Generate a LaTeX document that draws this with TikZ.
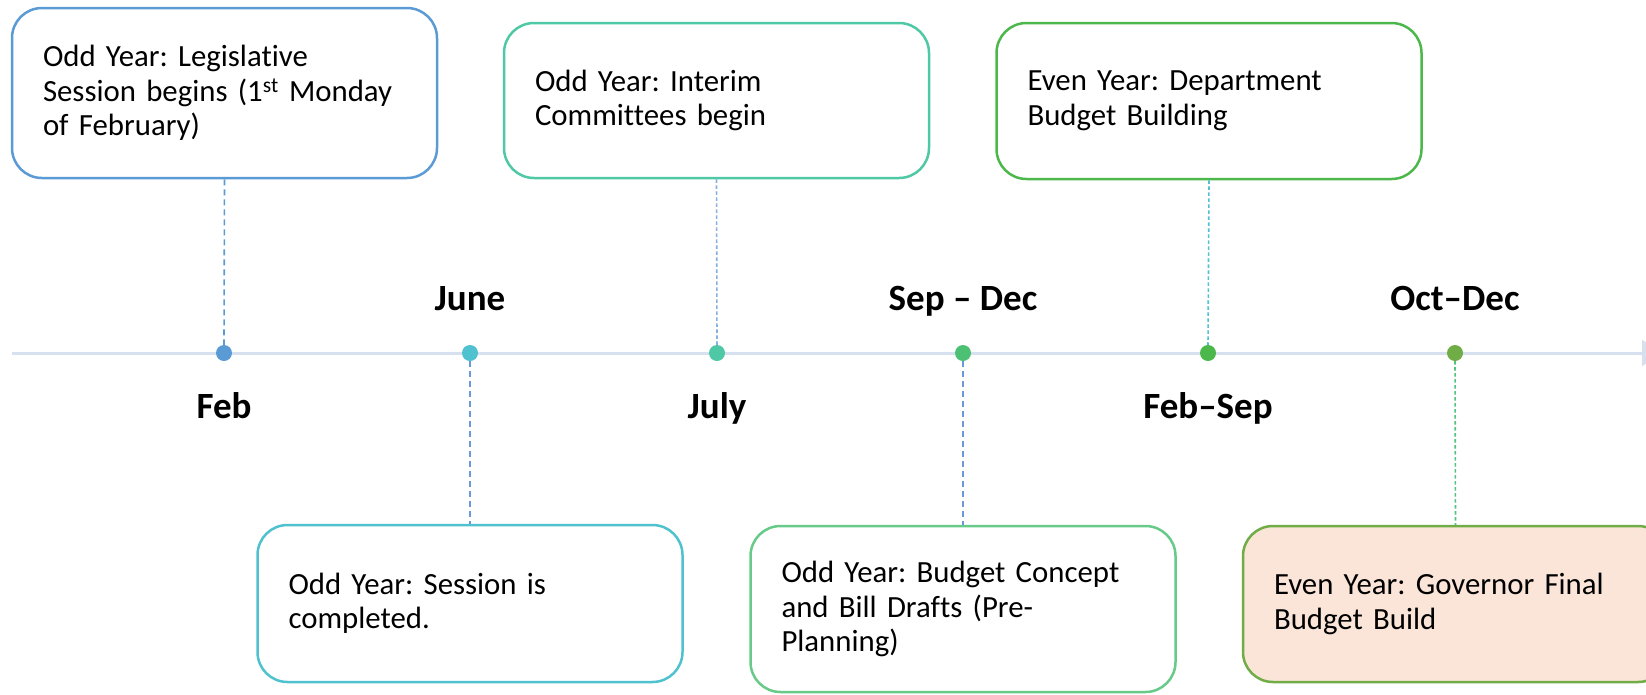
\documentclass[tikz,border=0pt]{standalone}
\usepackage{fontspec}
\setmainfont{Carlito}[Ligatures=NoCommon]
\usetikzlibrary{arrows.meta}
\frenchspacing
\definecolor{cBlue}{HTML}{5B9BD5}
\definecolor{cCyan}{HTML}{4FC1CF}
\definecolor{cTeal}{HTML}{4FC8A5}
\definecolor{cGreenA}{HTML}{4CC174}
\definecolor{cGreenB}{HTML}{4CB84C}
\definecolor{cOlive}{HTML}{70AD47}
\definecolor{cAxis}{HTML}{D6E0EF}
\definecolor{cPeach}{HTML}{FAE5D8}
\definecolor{cDashBlue}{HTML}{6A98DC}
\definecolor{cDashLight}{HTML}{86B0E0}
\definecolor{cDashGreen}{HTML}{52C27F}
\tikzset{
  evbox/.style={draw, line width=2.5pt, rounded corners=30pt, inner xsep=31pt, inner ysep=0pt,
    minimum width=425pt, text width=363pt, align=left, fill=white,
    font=\fontsize{30.8}{34.5}\selectfont\frenchspacing},
  dotnode/.style={circle, inner sep=0pt, minimum size=16pt, draw=none},
  datelbl/.style={anchor=base, inner sep=0pt, font=\fontsize{37}{42}\selectfont\bfseries},
  conn/.style={line width=1.6pt, dash pattern=on 6pt off 4pt},
  connfine/.style={line width=1.6pt, dash pattern=on 3.5pt off 2.5pt},
}
\begin{document}
\begin{tikzpicture}[x=1pt,y=-1pt]
\useasboundingbox (0,0) rectangle (1646,694);
% axis
\coordinate (axs) at (12,353);
\coordinate (axe) at (1662,353);
\draw[cAxis, line width=3pt, -{Triangle[length=20pt,width=26pt]}] (axs) -- (axe);
% dots
\node[dotnode, fill=cBlue] (d1) at (224,353) {};
\node[dotnode, fill=cCyan] (d2) at (470,353) {};
\node[dotnode, fill=cTeal] (d3) at (717,353) {};
\node[dotnode, fill=cGreenA] (d4) at (963,353) {};
\node[dotnode, fill=cGreenB] (d5) at (1208,353) {};
\node[dotnode, fill=cOlive] (d6) at (1455,353) {};
% labels
\node[datelbl] (l1) at (224,418) {Feb};
\node[datelbl] (l2) at (470,310) {June};
\node[datelbl] (l3) at (717,418) {July};
\node[datelbl] (l4) at (963,310) {Sep – Dec};
\node[datelbl] (l5) at (1208,418) {Feb–Sep};
\node[datelbl] (l6) at (1455,310) {Oct–Dec};
% boxes
\node[evbox, draw=cBlue, minimum height=170pt] (b1) at (224.5,93)
  {Odd Year: Legislative\\Session begins (1\textsuperscript{st} Monday\\of February)};
\node[evbox, draw=cTeal, minimum height=155pt] (b2) at (716.5,100.5)
  {Odd Year: Interim\\Committees begin};
\node[evbox, draw=cGreenB, minimum height=156pt] (b3) at (1209,101)
  {Even Year: Department\\Budget Building};
\node[evbox, draw=cCyan, minimum height=157pt] (b4) at (470,603.5)
  {Odd Year: Session is\\completed.};
\node[evbox, draw=cGreenA!85!white, minimum height=166pt] (b5) at (963,609)
  {Odd Year: Budget Concept\\and Bill Drafts (Pre-\\Planning)};
\node[evbox, draw=cOlive, fill=cPeach, minimum height=156pt] (b6) at (1455.5,604)
  {Even Year: Governor Final\\Budget Build};
% connectors
\draw[conn, cBlue] (b1.south) -- (d1.north);
\draw[connfine, cDashLight] (b2.south) -- (d3.north);
\draw[connfine, cCyan] (b3.south) -- (d5.north);
\draw[conn, cDashBlue] (d2.south) -- (b4.north);
\draw[conn, cDashBlue] (d4.south) -- (b5.north);
\draw[connfine, cDashGreen] (d6.south) -- (b6.north);
\end{tikzpicture}
\end{document}
